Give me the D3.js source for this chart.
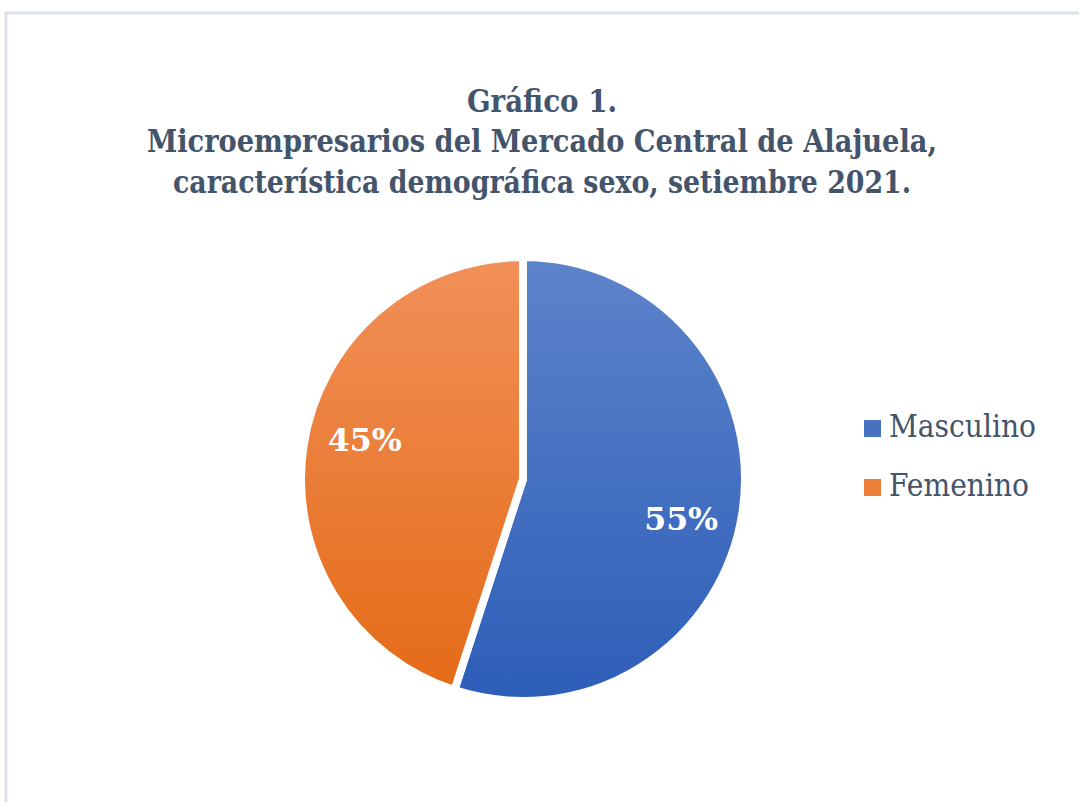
<!DOCTYPE html>
<html>
<head>
<meta charset="utf-8">
<script src="https://cdn.jsdelivr.net/npm/d3@7"></script>
<style>
  html, body { margin: 0; padding: 0; background: #ffffff; }
  svg { display: block; }
  .serif { font-family: "DejaVu Serif Condensed", "DejaVu Serif", serif; }
</style>
</head>
<body>
<script>
const titleLines = ["Gráfico 1.", "Microempresarios del Mercado Central de Alajuela,", "característica demográfica sexo, setiembre 2021."];
const categories = ["Masculino", "Femenino"];
const values = [55, 45];
const labels = ["55%", "45%"];
const colorsTop = ["#5d83ca", "#f19058"];
const colorsBottom = ["#2d5eb8", "#e46a16"];

const W = 1079, H = 802;
const svg = d3.select("body").append("svg").attr("width", W).attr("height", H);

svg.append("rect").attr("x", 6).attr("y", 13).attr("width", W + 20).attr("height", H + 20)
  .attr("fill", "#ffffff").attr("stroke", "#dde2ea").attr("stroke-width", 3);

// title: squeezed to the widths of the reference's condensed serif
const titleWidths = [150, 790, 738];
const baselines = [112, 152, 193];
titleLines.forEach((t, i) => {
  svg.append("text").attr("class", "serif").attr("text-anchor", "middle")
    .attr("x", 542).attr("y", baselines[i])
    .attr("font-weight", "bold").attr("font-size", 32).attr("fill", "#44546a")
    .attr("textLength", titleWidths[i]).attr("lengthAdjust", "spacingAndGlyphs")
    .text(t);
});

const defs = svg.append("defs");
categories.forEach((c, i) => {
  const g = defs.append("linearGradient").attr("id", "grad" + i)
    .attr("gradientUnits", "userSpaceOnUse")
    .attr("x1", 0).attr("y1", -220).attr("x2", 0).attr("y2", 220);
  g.append("stop").attr("offset", "0%").attr("stop-color", colorsTop[i]);
  g.append("stop").attr("offset", "100%").attr("stop-color", colorsBottom[i]);
});

const cx = 523, cy = 479, R = 222;
const pie = d3.pie().sort(null).value(d => d)(values);
const arc = d3.arc().innerRadius(0).outerRadius(R);

const g = svg.append("g").attr("transform", `translate(${cx},${cy})`);
g.selectAll("path").data(pie).join("path")
  .attr("d", arc)
  .attr("fill", (d, i) => `url(#grad${i})`)
  .attr("stroke", "#ffffff").attr("stroke-width", 8).attr("stroke-linejoin", "miter");

const labelR = 163, labelRot = 5 * Math.PI / 180;
g.selectAll("text.lbl").data(pie).join("text").attr("class", "lbl serif")
  .attr("transform", d => {
    const a = (d.startAngle + d.endAngle) / 2 + labelRot;
    return `translate(${labelR * Math.sin(a)},${-labelR * Math.cos(a)})`;
  })
  .attr("text-anchor", "middle").attr("dy", "0.36em")
  .attr("font-weight", "bold").attr("font-size", 31).attr("fill", "#ffffff")
  .attr("textLength", 74).attr("lengthAdjust", "spacingAndGlyphs")
  .text((d, i) => labels[i]);

const legWidths = [147, 140];
const leg = svg.append("g").attr("transform", "translate(864,420)");
categories.forEach((c, i) => {
  const row = leg.append("g").attr("transform", `translate(0,${i * 59})`);
  row.append("rect").attr("width", 17).attr("height", 17)
    .attr("fill", d3.interpolateRgb(colorsTop[i], colorsBottom[i])(0.45));
  row.append("text").attr("class", "serif").attr("x", 25).attr("y", 17)
    .attr("font-size", 31).attr("fill", "#44546a")
    .attr("textLength", legWidths[i]).attr("lengthAdjust", "spacingAndGlyphs")
    .text(c);
});
</script>
</body>
</html>
